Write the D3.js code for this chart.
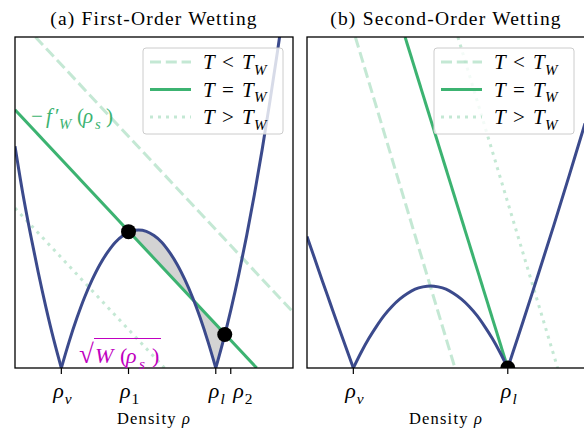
<!DOCTYPE html>
<html>
<head>
<meta charset="utf-8">
<script src="https://cdn.jsdelivr.net/npm/d3@7"></script>
<style>
html, body { margin: 0; background: #fff; }
</style>
</head>
<body>
<div id="chart"></div>
<script>
// density axis runs from -0.3 to 1.5 (rho_v = 0, rho_l = 1), sqrt(W) axis 0..1

// panel (a) first-order wetting
const curveA_left = [[-0.3, 0.67], [-0.25, 0.529], [-0.2, 0.405], [-0.15, 0.29], [-0.1, 0.184], [-0.05, 0.087], [0, 0]];
const curveA_hump = [[0, 0], [0.05, 0.079], [0.1, 0.15], [0.15, 0.213], [0.2, 0.267], [0.25, 0.313], [0.3, 0.35],
    [0.35, 0.38], [0.4, 0.4], [0.45, 0.413], [0.5, 0.417], [0.55, 0.413], [0.6, 0.4], [0.65, 0.38], [0.7, 0.35],
    [0.75, 0.313], [0.8, 0.267], [0.85, 0.213], [0.9, 0.15], [0.95, 0.079], [1, 0]];
const curveA_right = [[1, 0], [1.05, 0.085], [1.1, 0.18], [1.15, 0.285], [1.2, 0.4], [1.25, 0.524], [1.3, 0.659],
    [1.35, 0.804], [1.4, 0.958], [1.45, 1.12]];
const lineA_below = [[-0.168, 1], [1.5, 0.169]];   // T < T_W
const lineA_equal = [[-0.3, 0.78], [1.265, 0]];    // T = T_W
const lineA_above = [[-0.3, 0.483], [0.668, 0]];   // T > T_W
const dotsA = [[0.435, 0.412], [1.058, 0.101]];
const ticksA = [0, 0.435, 1, 1.097];
const tickSubsA = ['v', '1', 'l', '2'];

// panel (b) second-order wetting
const curveB_left = [[-0.3, 0.397], [-0.25, 0.33], [-0.2, 0.262], [-0.15, 0.196], [-0.1, 0.13], [-0.05, 0.065], [0, 0]];
const curveB_hump = [[0, 0], [0.05, 0.047], [0.1, 0.089], [0.15, 0.126], [0.2, 0.159], [0.25, 0.186], [0.3, 0.208],
    [0.35, 0.225], [0.4, 0.238], [0.45, 0.245], [0.5, 0.248], [0.55, 0.245], [0.6, 0.238], [0.65, 0.225], [0.7, 0.208],
    [0.75, 0.186], [0.8, 0.159], [0.85, 0.126], [0.9, 0.089], [0.95, 0.047], [1, 0]];
const curveB_right = [[1, 0], [1.05, 0.071], [1.1, 0.142], [1.2, 0.287], [1.3, 0.434], [1.4, 0.585], [1.5, 0.739]];
const lineB_below = [[0.013, 1], [0.658, 0]];
const lineB_equal = [[0.335, 1], [1, 0]];
const lineB_above = [[0.677, 1], [1.323, 0]];
const dotsB = [[1, 0]];
const ticksB = [0, 1];
const tickSubsB = ['v', 'l'];

const legendLabels = ['<', '=', '>'];

const serif = '"Liberation Serif", "DejaVu Serif", serif';
const blue = '#3b4a8c';
const green = '#3cb371';

const svg = d3.select('#chart')
    .append('svg')
    .attr('width', 584)
    .attr('height', 430)
    .attr('style', 'background: #fff');

// small helper for math-like labels; p.at places a glyph at an offset from the text start
function mathText(g, x, y, parts, opts) {
    const t = g.append('text')
        .attr('x', x)
        .attr('y', y)
        .attr('font-family', serif)
        .attr('font-size', opts.size)
        .attr('fill', opts.color || '#000')
        .attr('text-anchor', opts.anchor || 'start')
        .attr('letter-spacing', opts.spacing || 0);
    let shift = 0;
    parts.forEach(p => {
        const target = p.sub ? opts.size * 0.28 : 0;
        const s = t.append('tspan')
            .attr('dy', target - shift)
            .text(p.t);
        shift = target;
        if (p.i) s.attr('font-style', 'italic');
        if (p.sub) s.attr('font-size', p.subSize || opts.size * 0.7);
        if (p.size) s.attr('font-size', p.size);
        if (p.dx) s.attr('dx', p.dx);
        if (p.at != null) s.attr('x', x + p.at);
    });
    return t;
}

function drawPanel(cfg) {
    const x = d3.scaleLinear().domain([-0.3, 1.5]).range([cfg.x0, cfg.x0 + 278]);
    const y = d3.scaleLinear().domain([0, 1]).range([368, 37]);
    const g = svg.append('g');

    const clipId = 'clip-' + cfg.id;
    g.append('clipPath').attr('id', clipId)
        .append('rect')
        .attr('x', x(-0.3)).attr('y', y(1))
        .attr('width', x(1.5) - x(-0.3)).attr('height', y(0) - y(1));

    const plot = g.append('g').attr('clip-path', `url(#${clipId})`);

    const smooth = d3.line().x(d => x(d[0])).y(d => y(d[1])).curve(d3.curveCatmullRom);
    const straight = d3.line().x(d => x(d[0])).y(d => y(d[1]));

    // shaded equal-area region between the tangent line and the curve
    if (cfg.shade) {
        const area = d3.area().x(d => x(d[0])).y0(y(0)).y1(d => y(d[1])).curve(d3.curveCatmullRom);
        const areaLine = d3.area().x(d => x(d[0])).y0(y(0)).y1(d => y(d[1]));
        const shadeId = 'shade-' + cfg.id;
        g.append('clipPath').attr('id', shadeId)
            .append('rect')
            .attr('x', x(cfg.dots[0][0])).attr('y', y(1))
            .attr('width', x(cfg.dots[1][0]) - x(cfg.dots[0][0])).attr('height', y(0) - y(1));
        plot.append('g').attr('clip-path', `url(#${shadeId})`)
            .append('path')
            .attr('d', area(cfg.hump) + area(cfg.right) + areaLine(cfg.lines[1]))
            .attr('fill', '#d3d3d3')
            .attr('fill-rule', 'evenodd');
    }

    const styles = [
        { opacity: 0.3, dash: '11,4.8' },
        { opacity: 1, dash: null },
        { opacity: 0.3, dash: '3,5' }
    ];

    cfg.lines.forEach((ln, i) => {
        plot.append('path')
            .attr('d', straight(ln))
            .attr('fill', 'none')
            .attr('stroke', green)
            .attr('stroke-opacity', styles[i].opacity)
            .attr('stroke-width', 3)
            .attr('stroke-dasharray', styles[i].dash);
    });

    [cfg.left, cfg.hump, cfg.right].forEach(seg => {
        plot.append('path')
            .attr('d', smooth(seg))
            .attr('fill', 'none')
            .attr('stroke', blue)
            .attr('stroke-width', 3)
            .attr('stroke-linejoin', 'round');
    });

    plot.selectAll('circle.dot')
        .data(cfg.dots)
        .enter()
        .append('circle')
        .attr('class', 'dot')
        .attr('cx', d => x(d[0]))
        .attr('cy', d => y(d[1]))
        .attr('r', 7.5)
        .attr('fill', '#000');

    // frame
    g.append('rect')
        .attr('x', x(-0.3)).attr('y', y(1))
        .attr('width', x(1.5) - x(-0.3)).attr('height', y(0) - y(1))
        .attr('fill', 'none')
        .attr('stroke', '#000')
        .attr('stroke-width', 1.3);

    // x ticks
    cfg.ticks.forEach((t, i) => {
        const sub = cfg.tickSubs[i];
        g.append('line')
            .attr('x1', x(t)).attr('x2', x(t))
            .attr('y1', y(0)).attr('y2', y(0) + 6)
            .attr('stroke', '#000')
            .attr('stroke-width', 1.2);
        mathText(g, x(t) + (sub === '2' ? 12 : 1), 398,
            [{ t: 'ρ', i: true }, { t: sub, i: sub !== '1' && sub !== '2', sub: true, dx: 1 }],
            { size: 22, anchor: 'middle' });
    });

    // legend
    const lx = x(-0.3) + cfg.legendX;
    const leg = g.append('g');
    leg.append('rect')
        .attr('x', lx).attr('y', 48)
        .attr('width', 140).attr('height', 86)
        .attr('rx', 3)
        .attr('fill', '#fff')
        .attr('fill-opacity', 0.8)
        .attr('stroke', '#cccccc')
        .attr('stroke-width', 1);
    legendLabels.forEach((lab, i) => {
        const ly = 62 + i * 27.5;
        leg.append('line')
            .attr('x1', lx + 7).attr('x2', lx + 48)
            .attr('y1', ly).attr('y2', ly)
            .attr('stroke', green)
            .attr('stroke-opacity', styles[i].opacity)
            .attr('stroke-width', 3)
            .attr('stroke-dasharray', styles[i].dash);
        mathText(leg, lx + 60, ly + 7, [
            { t: 'T', i: true, at: 0 }, { t: lab, at: 19 }, { t: 'T', i: true, at: 39 },
            { t: 'W', i: true, sub: true, subSize: 15, at: 51 }
        ], { size: 21 });
    });

    // titles
    g.append('text')
        .attr('x', (x(-0.3) + x(1.5)) / 2)
        .attr('y', 25)
        .attr('text-anchor', 'middle')
        .attr('font-family', serif)
        .attr('font-size', 19.5)
        .attr('letter-spacing', 1.2)
        .text(cfg.title);

    mathText(g, (x(-0.3) + x(1.5)) / 2, 424, [{ t: 'Density ' }, { t: 'ρ', i: true }],
        { size: 16.5, anchor: 'middle', spacing: 1.2 });

    return { x, y, g };
}

const pa = drawPanel({
    id: 'a', x0: 15, title: '(a) First-Order Wetting',
    left: curveA_left, hump: curveA_hump, right: curveA_right,
    lines: [lineA_below, lineA_equal, lineA_above],
    dots: dotsA, ticks: ticksA, tickSubs: tickSubsA,
    shade: true, legendX: 128
});

const pb = drawPanel({
    id: 'b', x0: 307, title: '(b) Second-Order Wetting',
    left: curveB_left, hump: curveB_hump, right: curveB_right,
    lines: [lineB_below, lineB_equal, lineB_above],
    dots: dotsB, ticks: ticksB, tickSubs: tickSubsB,
    shade: false, legendX: 127
});

// annotations in panel (a)
mathText(pa.g, 31, 123, [
    { t: '−', at: 0 }, { t: 'f', i: true, at: 15 }, { t: '′', at: 24 }, { t: 'W', i: true, sub: true, at: 28 },
    { t: '(', at: 46 }, { t: 'ρ', i: true, at: 52 }, { t: 's', i: true, sub: true, at: 64 }, { t: ')', at: 75 }
], { size: 21, color: green });

mathText(pa.g, 79, 363, [
    { t: '√', size: 27, at: 0 }, { t: 'W', i: true, at: 16 }, { t: '(', at: 41 }, { t: 'ρ', i: true, at: 47 },
    { t: 's', i: true, sub: true, at: 60 }, { t: ')', at: 73 }
], { size: 22, color: '#c000c0' });
pa.g.append('line')
    .attr('x1', 94).attr('x2', 161)
    .attr('y1', 338.5).attr('y2', 338.5)
    .attr('stroke', '#c000c0')
    .attr('stroke-width', 1.1);
</script>
</body>
</html>
